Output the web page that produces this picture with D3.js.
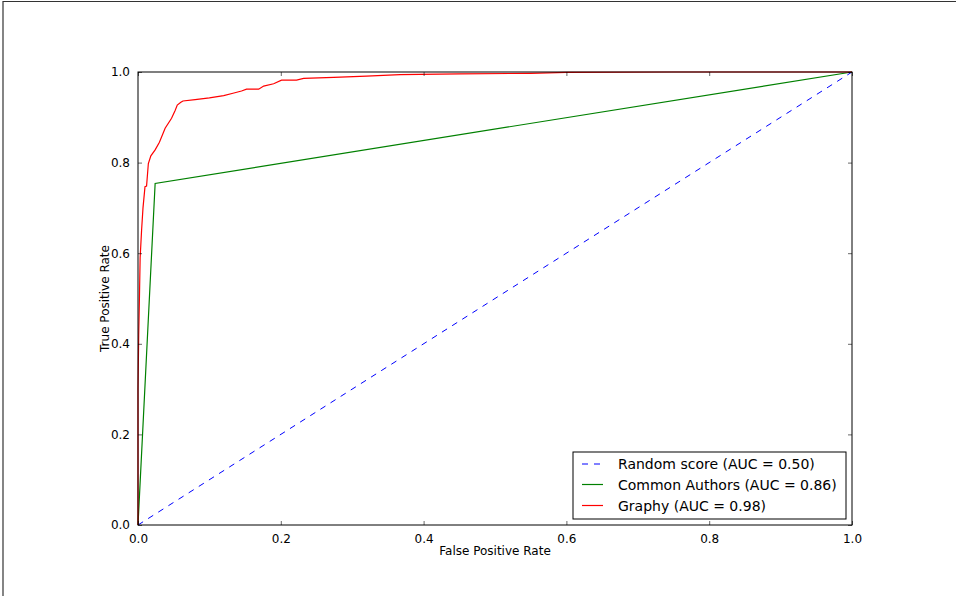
<!DOCTYPE html>
<html>
<head>
<meta charset="utf-8">
<script src="https://cdn.jsdelivr.net/npm/d3@7"></script>
<style>
  html, body { margin: 0; padding: 0; background: #fff; }
  svg { display: block; }
  text { font-family: "DejaVu Sans", sans-serif; fill: #000; }
</style>
</head>
<body>
<svg id="chart" width="956" height="596"></svg>
<script>
// ---- data ----
const xTicks = [0.0, 0.2, 0.4, 0.6, 0.8, 1.0];
const yTicks = [0.0, 0.2, 0.4, 0.6, 0.8, 1.0];

const randomFpr = [0, 1];
const randomTpr = [0, 1];

const commonFpr = [0, 0.024, 1];
const commonTpr = [0, 0.754, 1];

const graphyFpr = [0, 0, 0.001, 0.002, 0.003, 0.005, 0.007, 0.0098, 0.012, 0.0145, 0.018, 0.024, 0.03, 0.038, 0.047, 0.052, 0.055, 0.06, 0.063, 0.08, 0.1, 0.12, 0.133, 0.145, 0.152, 0.169, 0.176, 0.19, 0.201, 0.222, 0.232, 0.274, 0.32, 0.367, 0.45, 0.55, 0.6, 0.75, 1.0];
const graphyTpr = [0, 0.3, 0.42, 0.5, 0.59, 0.65, 0.7, 0.747, 0.748, 0.798, 0.815, 0.828, 0.845, 0.876, 0.898, 0.915, 0.927, 0.933, 0.936, 0.939, 0.943, 0.948, 0.953, 0.958, 0.962, 0.962, 0.969, 0.974, 0.982, 0.982, 0.986, 0.988, 0.991, 0.994, 0.996, 0.997, 0.999, 1.0, 1.0];

const seriesNames = ["Random score (AUC = 0.50)", "Common Authors (AUC = 0.86)", "Graphy (AUC = 0.98)"];
const seriesColors = ["#0000ff", "#008000", "#ff0000"];

// ---- layout ----
const svg = d3.select("#chart");
const L = 138, R = 852, T = 72, B = 525;

const x = d3.scaleLinear().domain([0, 1]).range([L, R]);
const y = d3.scaleLinear().domain([0, 1]).range([B, T]);

// outer figure border (top and left visible)
svg.append("line").attr("x1", 3).attr("x2", 956).attr("y1", 1.5).attr("y2", 1.5).attr("stroke", "#333").attr("stroke-width", 1.2);
svg.append("line").attr("x1", 3).attr("x2", 3).attr("y1", 1).attr("y2", 596).attr("stroke", "#333").attr("stroke-width", 1.2);

// lines
const line = d3.line().x(d => x(d[0])).y(d => y(d[1]));
const zip = (a, b) => a.map((v, i) => [v, b[i]]);

const plot = svg.append("g");
plot.append("path").datum(zip(randomFpr, randomTpr)).attr("d", line)
  .attr("fill", "none").attr("stroke", seriesColors[0]).attr("stroke-width", 1).attr("stroke-dasharray", "6,6");
plot.append("path").datum(zip(commonFpr, commonTpr)).attr("d", line)
  .attr("fill", "none").attr("stroke", seriesColors[1]).attr("stroke-width", 1.2);
plot.append("path").datum(zip(graphyFpr, graphyTpr)).attr("d", line)
  .attr("fill", "none").attr("stroke", seriesColors[2]).attr("stroke-width", 1.2);

// axes (ticks inside, all four sides)
const tickLen = 4;
const fmt = d3.format(".1f");
const axB = svg.append("g").attr("transform", `translate(0,${B})`)
  .call(d3.axisBottom(x).tickValues(xTicks).tickSize(-tickLen).tickPadding(9).tickFormat(fmt));
const axT = svg.append("g").attr("transform", `translate(0,${T})`)
  .call(d3.axisTop(x).tickValues(xTicks).tickSize(-tickLen).tickFormat(""));
const axL = svg.append("g").attr("transform", `translate(${L},0)`)
  .call(d3.axisLeft(y).tickValues(yTicks).tickSize(-tickLen).tickPadding(8).tickFormat(fmt));
const axR = svg.append("g").attr("transform", `translate(${R},0)`)
  .call(d3.axisRight(y).tickValues(yTicks).tickSize(-tickLen).tickFormat(""));
[axB, axT, axL, axR].forEach(g => {
  g.select(".domain").remove();
  g.selectAll(".tick line").attr("stroke", "#000").attr("stroke-width", 0.6);
  g.selectAll("text").attr("font-size", 12).attr("font-family", "DejaVu Sans");
});

// spines
svg.append("rect").attr("x", L).attr("y", T).attr("width", R - L).attr("height", B - T)
  .attr("fill", "none").attr("stroke", "#000").attr("stroke-width", 1);

// axis labels
svg.append("text").attr("x", (L + R) / 2).attr("y", 555).attr("text-anchor", "middle")
  .attr("font-size", 12).text("False Positive Rate");
svg.append("text").attr("transform", `translate(108.5,${(T + B) / 2}) rotate(-90)`)
  .attr("text-anchor", "middle").attr("font-size", 12).text("True Positive Rate");

// legend
const lg = svg.append("g");
lg.append("rect").attr("x", 573).attr("y", 452).attr("width", 273).attr("height", 67)
  .attr("fill", "#fff").attr("stroke", "#000").attr("stroke-width", 1);
const rowY = [464, 484.5, 505.5];
seriesNames.forEach((name, i) => {
  lg.append("line").attr("x1", 582).attr("x2", 603).attr("y1", rowY[i]).attr("y2", rowY[i])
    .attr("stroke", seriesColors[i]).attr("stroke-width", i === 0 ? 1 : 1.2)
    .attr("stroke-dasharray", i === 0 ? "6,6" : null);
  lg.append("text").attr("x", 618).attr("y", rowY[i]).attr("dy", "0.36em")
    .attr("font-size", 14).text(name);
});
</script>
</body>
</html>
